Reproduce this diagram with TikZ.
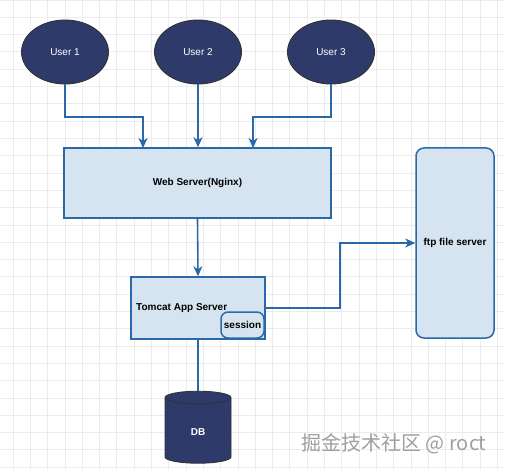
\documentclass[tikz,border=0pt]{standalone}
\usepackage{fontspec}
\setmainfont{Liberation Sans}
\newfontfamily\cjk{Noto Sans CJK SC}
\usetikzlibrary{arrows.meta,positioning,calc,shapes.geometric}
\pgfdeclarelayer{bg}
\pgfsetlayers{bg,main}
\definecolor{navy}{RGB}{46,58,106}
\definecolor{boxfill}{RGB}{214,228,241}
\definecolor{boxline}{RGB}{43,104,166}
\definecolor{gridline}{RGB}{236,236,238}

\tikzset{
  user/.style={ellipse, draw=black!80, line width=0.9pt, fill=navy, text=white,
    minimum width=87pt, minimum height=64pt, font=\fontsize{10}{12}\selectfont},
  server/.style={draw=boxline, line width=1.5pt, fill=boxfill,
    font=\bfseries\fontsize{10}{12}\selectfont},
  link/.style={draw=boxline, line width=1.6pt, -{Stealth[length=10pt,width=9pt,inset=3pt]}}
}

\begin{document}
\begin{tikzpicture}[x=1pt, y=-1pt]
    \useasboundingbox (0,0) rectangle (505,470);
    \begin{pgfonlayer}{bg}    % grid paper behind everything
        \fill[white] (0,0) rectangle (505,470);
        \draw[gridline, line width=0.8pt, xshift=13pt, step=17.3pt] (-13,0) grid (505,470);
    \end{pgfonlayer}

    % users
    \node [user] (u1) at (65,52) {User 1};
    \node [user] (u2) at (198,52) {User 2};
    \node [user] (u3) at (331,52) {User 3};

    % servers
    \node [server, minimum width=267pt, minimum height=70pt] (web) at (197.5,183) {Web Server(Nginx)};
    \node [server, minimum width=134pt, minimum height=62pt] (tomcat) at (198,308) {};
    \node [anchor=west, font=\bfseries\fontsize{10}{12}\selectfont, inner sep=0pt] (tomcatlbl) at (136,308) {Tomcat App Server};
    \node [server, rounded corners=7pt, minimum width=43pt, minimum height=26pt, inner sep=0pt] (session) at (242.5,325) {session};
    \node [server, rounded corners=8pt, minimum width=78pt, minimum height=190pt] (ftp) at (455,243) {ftp file server};

    % database
    \node [cylinder, shape border rotate=90, aspect=0.6, draw=black!80, line width=0.9pt,
      fill=navy, text=white, minimum width=66pt, minimum height=72pt,
      font=\bfseries\fontsize{10}{12}\selectfont] (db) at (198,432) {DB};

    % connectors
    \draw [link] (u1.south) |- (143,117) -- (143,148);
    \draw [link] (u2.south) -- (u2.south |- web.north);
    \draw [link] (u3.south) |- (253,117) -- (253,148);
    \draw [link] (web.south) -- (tomcat.north);
    \draw [link] (tomcat.east |- 0,308) -| (340,243) -- (ftp.west);
    \draw [draw=boxline, line width=1.6pt] (tomcat.south) -- (db.north);

    % watermark
    \node [text=gray!75, font=\cjk\fontsize{20}{22}\selectfont] (mark) at (394,444) {掘金技术社区 @ roct};
\end{tikzpicture}
\end{document}
